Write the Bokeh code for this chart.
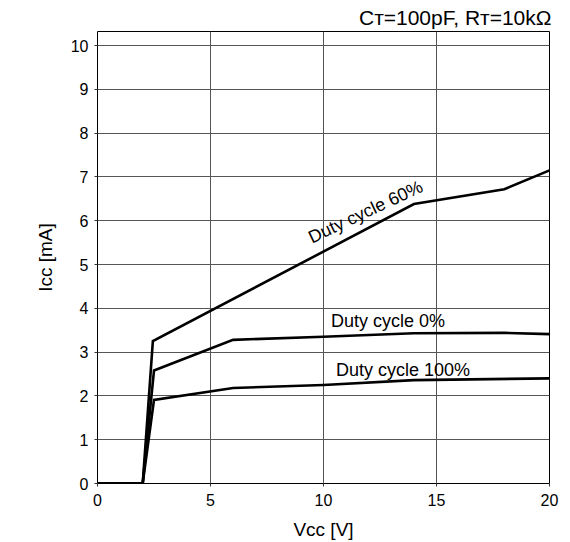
from bokeh.plotting import figure
from bokeh.models import Range1d, FixedTicker
from bokeh.core.properties import value
from bokeh.embed import file_html
from bokeh.resources import INLINE

# Data
vcc_60 = [0, 2, 2.45, 14, 18, 20]
icc_60 = [0, 0, 3.25, 6.38, 6.72, 7.15]

vcc_0 = [0, 2, 2.5, 6, 10, 14, 18, 20]
icc_0 = [0, 0, 2.58, 3.28, 3.35, 3.43, 3.44, 3.41]

vcc_100 = [0, 2, 2.5, 6, 10, 14, 20]
icc_100 = [0, 0, 1.91, 2.18, 2.25, 2.36, 2.40]

x_ticks = [0, 5, 10, 15, 20]
y_ticks = [0, 1, 2, 3, 4, 5, 6, 7, 8, 9, 10]

FONT = "Liberation Sans"

p = figure(width=570, height=542, output_backend="svg", toolbar_location=None,
           x_range=Range1d(0, 20), y_range=Range1d(0, 10.32),
           min_border_left=97, min_border_right=21, min_border_top=31, min_border_bottom=58,
           title="C\u1d1b=100pF, R\u1d1b=10k\u03a9")

p.title.align = "right"
p.title.text_font = FONT
p.title.text_font_size = "21px"
p.title.text_font_style = "normal"
p.title.text_color = "black"
p.title.standoff = 5
p.title.offset = -2

p.outline_line_color = "black"
p.outline_line_width = 1
p.background_fill_color = "white"
p.border_fill_color = "white"

for ax in (p.xaxis, p.yaxis):
    ax.axis_line_color = None
    ax.major_tick_line_color = "#333333"
    ax.major_tick_out = 3
    ax.major_tick_in = 0
    ax.minor_tick_line_color = None
    ax.major_label_text_font = FONT
    ax.major_label_text_font_size = "16px"
    ax.major_label_text_color = "black"
    ax.axis_label_text_font = FONT
    ax.axis_label_text_font_size = "19px"
    ax.axis_label_text_font_style = "normal"
    ax.axis_label_text_color = "black"

p.xaxis.ticker = FixedTicker(ticks=x_ticks)
p.yaxis.ticker = FixedTicker(ticks=y_ticks)
p.xaxis.axis_label = "Vcc [V]"
p.yaxis.axis_label = "Icc [mA]"
p.xaxis.major_label_standoff = 7
p.yaxis.major_label_standoff = 6
p.xaxis.axis_label_standoff = 10
p.yaxis.axis_label_standoff = 12

p.xgrid.ticker = FixedTicker(ticks=x_ticks)
p.ygrid.ticker = FixedTicker(ticks=y_ticks)
p.grid.grid_line_color = "#555555"
p.grid.grid_line_width = 1

for xs, ys in ((vcc_60, icc_60), (vcc_0, icc_0), (vcc_100, icc_100)):
    p.line(xs, ys, line_color="black", line_width=2.6, line_join="miter")

p.text(x=[9.38], y=[5.60], text=["Duty cycle 60%"], angle=0.44,
       text_font=value(FONT), text_font_size="18px", text_color="black",
       text_align="left", text_baseline="alphabetic")
p.text(x=[10.33], y=[3.70], text=["Duty cycle 0%"],
       text_font=value(FONT), text_font_size="18px", text_color="black",
       text_align="left", text_baseline="alphabetic")
p.text(x=[10.55], y=[2.60], text=["Duty cycle 100%"],
       text_font=value(FONT), text_font_size="18px", text_color="black",
       text_align="left", text_baseline="alphabetic")

open("out.html", "w").write(file_html(p, INLINE))
